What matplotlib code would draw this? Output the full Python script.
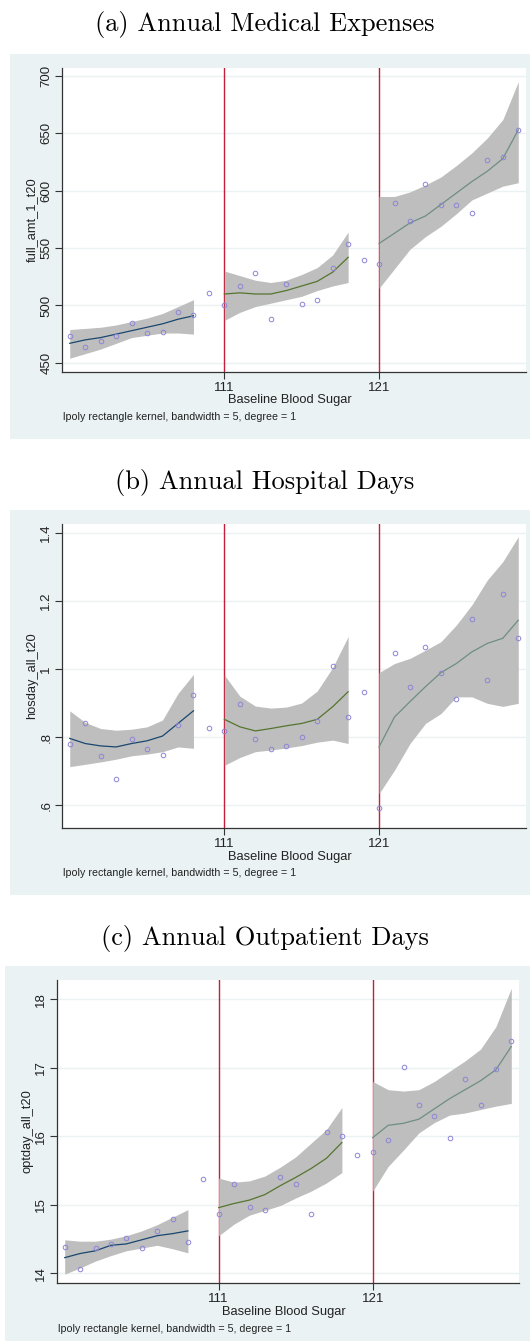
import matplotlib
matplotlib.use("Agg")
import matplotlib.pyplot as plt
from matplotlib.patches import Rectangle

plt.rcParams["font.family"] = ["Liberation Sans", "DejaVu Sans"]

# ---- data ----
x_pts = list(range(101, 131))
x_seg1 = list(range(101, 110))
x_seg2 = list(range(111, 120))
x_seg3 = list(range(121, 131))

# (a) Annual Medical Expenses
a_pts = [473, 464, 469, 473, 485, 476, 477, 494, 491.5, 511,
         500, 517, 528, 488, 519, 501, 505, 533, 554, 540,
         536, 589, 574, 606, 588, 588, 581, 627, 629, 653]
a_fit1 = [467, 470, 472, 475, 478, 481, 484, 488, 491]
a_lo1 = [454, 458, 462, 467, 472, 474, 476, 476, 475]
a_hi1 = [479, 480, 481, 483, 486, 489, 493, 499, 505]
a_fit2 = [510, 511, 510, 510, 513, 517, 521, 529, 542]
a_lo2 = [487, 494, 499, 502, 505, 508, 513, 517, 520]
a_hi2 = [530, 526, 522, 520, 522, 527, 533, 544, 564]
a_fit3 = [554, 563, 572, 578, 588, 598, 608, 617, 628, 653]
a_lo3 = [515, 532, 549, 560, 569, 580, 592, 598, 604, 607]
a_hi3 = [595, 595, 599, 605, 612, 622, 633, 646, 662, 695]

# (b) Annual Hospital Days
b_pts = [0.781, 0.84, 0.744, 0.676, 0.793, 0.765, 0.748, 0.834, 0.923, 0.828,
         0.817, 0.897, 0.793, 0.765, 0.773, 0.80, 0.846, 1.009, 0.858, 0.931,
         0.592, 1.048, 0.946, 1.065, 0.987, 0.911, 1.146, 0.967, 1.219, 1.092]
b_fit1 = [0.796, 0.781, 0.774, 0.771, 0.781, 0.789, 0.803, 0.84, 0.877]
b_lo1 = [0.713, 0.72, 0.727, 0.735, 0.745, 0.75, 0.757, 0.771, 0.767]
b_hi1 = [0.877, 0.843, 0.825, 0.82, 0.823, 0.83, 0.85, 0.928, 0.984]
b_fit2 = [0.852, 0.83, 0.818, 0.825, 0.833, 0.84, 0.852, 0.889, 0.933]
b_lo2 = [0.717, 0.74, 0.757, 0.762, 0.768, 0.775, 0.785, 0.791, 0.781]
b_hi2 = [0.982, 0.92, 0.891, 0.885, 0.888, 0.9, 0.935, 1.004, 1.095]
b_fit3 = [0.771, 0.859, 0.904, 0.948, 0.989, 1.016, 1.05, 1.075, 1.09, 1.143]
b_lo3 = [0.634, 0.703, 0.781, 0.84, 0.869, 0.918, 0.918, 0.899, 0.89, 0.899]
b_hi3 = [0.989, 1.016, 1.031, 1.055, 1.08, 1.129, 1.188, 1.261, 1.315, 1.388]

# (c) Annual Outpatient Days
c_pts = [14.38, 14.07, 14.37, 14.43, 14.51, 14.37, 14.62, 14.80, 14.46, 15.38,
         14.86, 15.31, 14.97, 14.92, 15.41, 15.31, 14.87, 16.06, 16.01, 15.72,
         15.77, 15.95, 17.01, 16.46, 16.29, 15.97, 16.84, 16.45, 16.98, 17.39]
c_fit1 = [14.23, 14.29, 14.33, 14.41, 14.43, 14.49, 14.55, 14.58, 14.62]
c_lo1 = [13.99, 14.08, 14.18, 14.26, 14.33, 14.37, 14.41, 14.36, 14.30]
c_hi1 = [14.49, 14.47, 14.47, 14.50, 14.55, 14.62, 14.71, 14.82, 14.93]
c_fit2 = [14.96, 15.02, 15.07, 15.15, 15.28, 15.40, 15.53, 15.68, 15.91]
c_lo2 = [14.55, 14.72, 14.85, 14.92, 14.99, 15.10, 15.20, 15.32, 15.47]
c_hi2 = [15.39, 15.33, 15.35, 15.42, 15.55, 15.70, 15.90, 16.10, 16.42]
c_fit3 = [15.98, 16.16, 16.19, 16.25, 16.40, 16.55, 16.68, 16.81, 16.97, 17.31]
c_lo3 = [15.20, 15.56, 15.80, 16.05, 16.20, 16.31, 16.34, 16.39, 16.44, 16.48]
c_hi3 = [16.80, 16.68, 16.66, 16.68, 16.80, 16.95, 17.10, 17.27, 17.60, 18.16]

cutoffs = [111, 121]
a_yticks = [450, 500, 550, 600, 650, 700]
a_ylabels = ["450", "500", "550", "600", "650", "700"]
b_yticks = [0.6, 0.8, 1.0, 1.2, 1.4]
b_ylabels = [".6", ".8", "1", "1.2", "1.4"]
c_yticks = [14, 15, 16, 17, 18]
c_ylabels = ["14", "15", "16", "17", "18"]

W, H = 530, 1344
BG = "#EAF2F3"
BAND = "#BEBEBE"
LINE_COLORS = ["#1A476F", "#55752F", "#6E8E84"]
PT_COLOR = "#8C84D6"
RED = "#C41E3A"

fig = plt.figure(figsize=(W / 100, H / 100), dpi=100)


def fx(px):
    return px / W


def fy(py):
    return 1 - py / H


panels = [
    dict(title="(a) Annual Medical Expenses", title_y=25, bg=(10, 54, 530, 439),
         plot=(62, 68, 526, 372), ylab_x=32, ylabel="full_amt_1_t20",
         pts=a_pts, fits=[a_fit1, a_fit2, a_fit3], los=[a_lo1, a_lo2, a_lo3],
         his=[a_hi1, a_hi2, a_hi3], ylim=(442, 707), yticks=a_yticks, ylabels=a_ylabels,
         xlab_y=400, note_x=63, note_y=417),
    dict(title="(b) Annual Hospital Days", title_y=483, bg=(10, 510, 530, 895),
         plot=(62, 524, 526, 828), ylab_x=32, ylabel="hosday_all_t20",
         pts=b_pts, fits=[b_fit1, b_fit2, b_fit3], los=[b_lo1, b_lo2, b_lo3],
         his=[b_hi1, b_hi2, b_hi3], ylim=(0.533, 1.4255), yticks=b_yticks, ylabels=b_ylabels,
         xlab_y=857, note_x=63, note_y=873),
    dict(title="(c) Annual Outpatient Days", title_y=938, bg=(5, 966, 530, 1341),
         plot=(57, 980, 519, 1283), ylab_x=28, ylabel="optday_all_t20",
         pts=c_pts, fits=[c_fit1, c_fit2, c_fit3], los=[c_lo1, c_lo2, c_lo3],
         his=[c_hi1, c_hi2, c_hi3], ylim=(13.86, 18.28), yticks=c_yticks, ylabels=c_ylabels,
         xlab_y=1312, note_x=58, note_y=1329),
]

for p in panels:
    x0, y0, x1, y1 = p["bg"]
    fig.add_artist(Rectangle((fx(x0), fy(y1)), (x1 - x0) / W, (y1 - y0) / H,
                             transform=fig.transFigure, facecolor=BG,
                             edgecolor="none", zorder=-1))
    fig.text(0.5, fy(p["title_y"]), p["title"], family="cmr10", size=19,
             ha="center", va="center")

    l, t, r, b = p["plot"]
    ax = fig.add_axes([fx(l), fy(b), (r - l) / W, (b - t) / H])
    ax.set_facecolor("white")

    for xs, fit, lo, hi, col in zip([x_seg1, x_seg2, x_seg3], p["fits"],
                                    p["los"], p["his"], LINE_COLORS):
        ax.fill_between(xs, lo, hi, color=BAND, lw=0, zorder=3)
        ax.plot(xs, fit, color=col, lw=0.9, zorder=4)

    for c in cutoffs:
        ax.axvline(c, color=RED, lw=1, zorder=2)

    ax.plot(x_pts, p["pts"], "o", mfc="none", mec=PT_COLOR, ms=3.3,
            mew=0.7, zorder=5)

    ax.set_xlim(100.5, 130.5)
    ax.set_ylim(*p["ylim"])
    ax.set_xticks(cutoffs)
    ax.set_xticklabels([str(c) for c in cutoffs])
    ax.set_yticks(p["yticks"])
    ax.set_yticklabels(p["ylabels"], rotation=90, va="center")
    ax.grid(axis="y", color=BG, lw=1, zorder=1)
    ax.set_axisbelow(True)
    for s in ["top", "right"]:
        ax.spines[s].set_visible(False)
    for s in ["left", "bottom"]:
        ax.spines[s].set_color("#333333")
        ax.spines[s].set_linewidth(0.9)
    ax.tick_params(length=5, width=0.8, color="#333333", labelsize=9.5,
                   labelcolor="#222222", pad=2)

    fig.text(fx(p["ylab_x"]), fy((t + b) / 2), p["ylabel"], rotation=90,
             ha="center", va="center", size=9.3, color="#222222")
    fig.text(fx((l + r) / 2 - 4), fy(p["xlab_y"]), "Baseline Blood Sugar",
             ha="center", va="center", size=9.3, color="#222222")
    fig.text(fx(p["note_x"]), fy(p["note_y"]),
             "lpoly rectangle kernel, bandwidth = 5, degree = 1",
             ha="left", va="center", size=7.7, color="#222222")

fig.savefig("out.png", dpi=100)
